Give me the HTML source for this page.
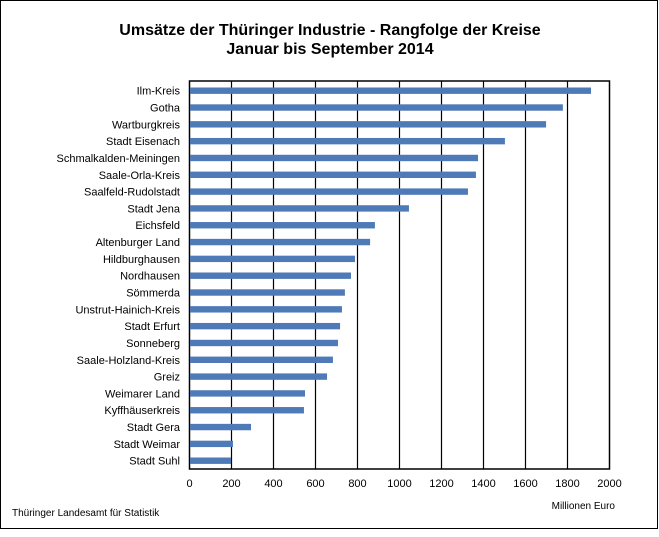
<!DOCTYPE html>
<html><head><meta charset="utf-8"><style>
body{margin:0;background:#fff;}
svg text{font-family:"Liberation Sans",Arial,sans-serif;}
</style></head><body>
<svg width="659" height="532" xmlns="http://www.w3.org/2000/svg">
<rect x="0.5" y="0.5" width="657" height="528" fill="#fff" stroke="#000" stroke-width="1"/>
<text x="330" y="35" text-anchor="middle" font-size="16" font-weight="bold">Umsätze der Thüringer Industrie - Rangfolge der Kreise</text>
<text x="330" y="54" text-anchor="middle" font-size="16" font-weight="bold">Januar bis September 2014</text>
<g stroke="#000" stroke-width="1.2">
<line x1="231.5" y1="81" x2="231.5" y2="469"/><line x1="273.5" y1="81" x2="273.5" y2="469"/>
<line x1="315.5" y1="81" x2="315.5" y2="469"/><line x1="357.5" y1="81" x2="357.5" y2="469"/>
<line x1="399.5" y1="81" x2="399.5" y2="469"/><line x1="441.5" y1="81" x2="441.5" y2="469"/>
<line x1="483.5" y1="81" x2="483.5" y2="469"/><line x1="525.5" y1="81" x2="525.5" y2="469"/>
<line x1="567.5" y1="81" x2="567.5" y2="469"/>
</g>
<rect x="189.5" y="81" width="420" height="388" fill="none" stroke="#000" stroke-width="1.5"/>
<g fill="#4f7ab8" id="bars"></g>
<g font-size="11" text-anchor="end" id="labels"></g>
<g font-size="11" text-anchor="middle">
<text x="189.5" y="487">0</text><text x="231.5" y="487">200</text><text x="273.5" y="487">400</text>
<text x="315.5" y="487">600</text><text x="357.5" y="487">800</text><text x="399.5" y="487">1000</text>
<text x="441.5" y="487">1200</text><text x="483.5" y="487">1400</text><text x="525.5" y="487">1600</text>
<text x="567.5" y="487">1800</text><text x="609.5" y="487">2000</text>
</g>
<text x="615" y="509" text-anchor="end" font-size="10">Millionen Euro</text>
<text x="12" y="516" font-size="10">Thüringer Landesamt für Statistik</text>
<script>
var d=[["Ilm-Kreis",1912],["Gotha",1778],["Wartburgkreis",1698],["Stadt Eisenach",1502],["Schmalkalden-Meiningen",1374],["Saale-Orla-Kreis",1364],["Saalfeld-Rudolstadt",1326],["Stadt Jena",1045],["Eichsfeld",883],["Altenburger Land",860],["Hildburghausen",788],["Nordhausen",769],["Sömmerda",740],["Unstrut-Hainich-Kreis",726],["Stadt Erfurt",717],["Sonneberg",707],["Saale-Holzland-Kreis",683],["Greiz",655],["Weimarer Land",550],["Kyffhäuserkreis",545],["Stadt Gera",293],["Stadt Weimar",207],["Stadt Suhl",198]];
var ns="http://www.w3.org/2000/svg",b=document.getElementById("bars"),l=document.getElementById("labels");
var sp=(460.7-90.7)/(d.length-1);
d.forEach(function(e,i){var c=90.7+i*sp;
var r=document.createElementNS(ns,"rect");r.setAttribute("x",190);r.setAttribute("y",c-3.2);r.setAttribute("width",e[1]*0.21-0.5);r.setAttribute("height",6.4);b.appendChild(r);
var t=document.createElementNS(ns,"text");t.setAttribute("x",180);t.setAttribute("y",c+4);t.textContent=e[0];l.appendChild(t);});
</script>
</svg>
</body></html>
